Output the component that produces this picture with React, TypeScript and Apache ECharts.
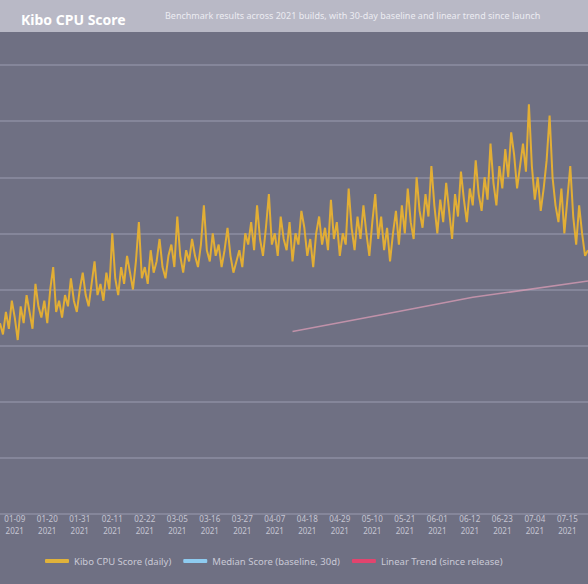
import React, { useEffect, useRef } from "react";
import * as echarts from "echarts";

const seriesNames = ["Kibo CPU Score (daily)", "Median Score (baseline, 30d)", "Linear Trend (since release)"];

const scoreValues = [
  34, 32, 36, 33, 38, 35, 31, 37, 34, 39, 36, 33, 41, 37, 35, 38, 34, 40, 44, 36, 38, 35, 39, 37, 42, 38, 36, 40, 43, 39, 37, 41, 45, 39,
  41, 38, 43, 40, 50, 42, 39, 44, 41, 46, 43, 40, 45, 52, 42, 44, 41, 47, 43, 45, 49, 44, 42, 46, 48, 44, 53, 46, 43, 47, 45, 49, 46, 44, 48, 55, 47, 45, 50, 46, 48, 44, 47, 51, 46, 43, 45, 47, 44, 50, 48,
  52, 47, 55, 49, 46, 51, 57, 48, 50, 46, 53, 49, 47, 52, 45, 50, 48, 54, 51, 46, 49, 44, 50, 53, 48, 51, 47, 56, 49, 52, 46, 50, 48, 58, 51, 47, 53, 49, 55, 50, 46, 52, 57, 49, 53, 47, 51, 45, 50, 54, 48,
  55, 50, 58, 52, 49, 60, 54, 51, 57, 53, 62, 55, 50, 56, 52, 59, 54, 49, 57, 53, 61, 56, 52, 58, 55, 63, 57, 54, 60, 56, 66, 59, 55, 62, 58, 65, 60, 68, 64, 58, 62, 66, 61, 73, 62,
  56, 60, 54, 58, 63, 71, 60, 55, 52, 58, 50, 56, 62, 53, 48, 55, 50, 46, 47,
];

const medianValues: (number | null)[] = [];

const trendPoints: [number, number][] = [
  [99, 32.5],
  [130, 35.6],
  [160, 38.6],
  [199, 41.5],
];

const startDate = "2021-01-04";

function buildCategories(n: number): string[] {
  const out: string[] = [];
  const d0 = new Date(startDate + "T00:00:00Z");
  for (let i = 0; i < n; i++) {
    const d = new Date(d0.getTime() + i * 86400000);
    const mm = String(d.getUTCMonth() + 1).padStart(2, "0");
    const dd = String(d.getUTCDate()).padStart(2, "0");
    out.push(`${mm}-${dd}\n${d.getUTCFullYear()}`);
  }
  return out;
}

const categories = buildCategories(scoreValues.length);

export default function App() {
  const ref = useRef<HTMLDivElement>(null);
  useEffect(() => {
    if (!ref.current) return;
    const chart = echarts.init(ref.current, undefined, { renderer: "svg" });
    chart.setOption({
      animation: false,
      backgroundColor: "#6f7083",
      graphic: [
        {
          type: "rect",
          left: 0,
          top: 0,
          shape: { width: 588, height: 32 },
          style: { fill: "#b9b9c6" },
          z: 0,
        },
        {
          type: "text",
          left: 165,
          top: 11,
          style: {
            text: "Benchmark results across 2021 builds, with 30-day baseline and linear trend since launch",
            fill: "#ececf2",
            font: "9px 'Noto Sans', sans-serif",
          },
          z: 10,
        },
      ],
      title: {
        text: "Kibo CPU Score",
        left: 16,
        top: 7,
        textStyle: { color: "#ffffff", fontSize: 14, fontWeight: "bold", fontFamily: "'Noto Sans', sans-serif" },
      },
      legend: {
        bottom: 13,
        left: 40,
        itemWidth: 24,
        itemHeight: 4,
        itemGap: 12,
        icon: "roundRect",
        textStyle: { color: "#c9c9d6", fontSize: 9.5, fontFamily: "'Noto Sans', sans-serif" },
        data: seriesNames,
      },
      grid: { left: 0, right: 0, top: 65, bottom: 70, outerBoundsMode: "none", containLabel: false },
      xAxis: {
        type: "category",
        data: categories,
        boundaryGap: false,
        axisLine: { show: false },
        axisTick: { show: false },
        axisLabel: {
          color: "#c6c6d3",
          fontSize: 8,
          margin: -2,
          interval: (i: number) => i % 11 === 5,
          lineHeight: 12,
          fontFamily: "'Noto Sans', sans-serif",
        },
        splitLine: { show: false },
      },
      yAxis: {
        type: "value",
        min: 0,
        max: 80,
        interval: 10,
        axisLabel: { show: false },
        axisLine: { show: false },
        axisTick: { show: false },
        splitLine: { lineStyle: { color: "#85869a", width: 2 } },
      },
      series: [
        {
          name: seriesNames[0],
          type: "line",
          data: scoreValues,
          symbol: "none",
          color: "#e0b23a",
          lineStyle: { width: 2, color: "#e2ae35" },
          z: 5,
        },
        {
          name: seriesNames[1],
          type: "line",
          data: medianValues,
          symbol: "none",
          color: "#8ecbf0",
          lineStyle: { width: 1.5 },
        },
        {
          name: seriesNames[2],
          type: "line",
          data: trendPoints,
          symbol: "none",
          color: "#e2446e",
          lineStyle: { width: 1.5, color: "rgba(226,160,185,0.7)" },
          z: 4,
        },
      ],
    });
    return () => chart.dispose();
  }, []);
  return <div ref={ref} style={{ position: "fixed", left: 0, top: 0, width: 588, height: 584 }} />;
}
